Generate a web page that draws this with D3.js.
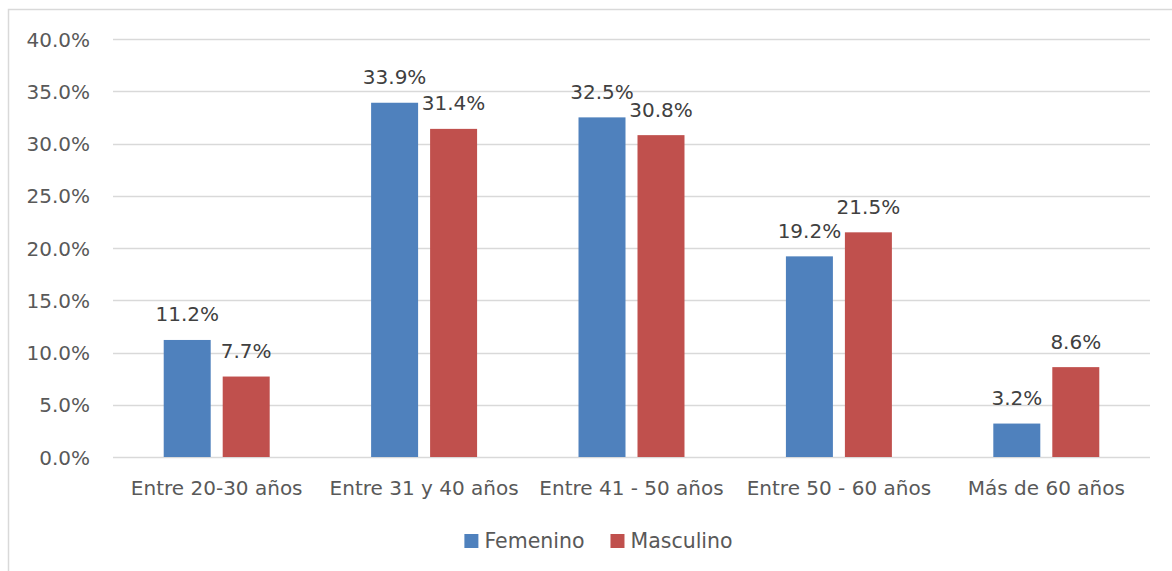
<!DOCTYPE html>
<html>
<head>
<meta charset="utf-8">
<script src="https://cdn.jsdelivr.net/npm/d3@7/dist/d3.min.js"></script>
<style>
  html, body { margin: 0; padding: 0; background: #ffffff; }
  svg { display: block; }
  text { font-family: "DejaVu Sans", sans-serif; }
</style>
</head>
<body>
<svg id="chart" width="1172" height="571"></svg>
<script>
// Age groups and the share of each sex in them
const categories = ["Entre 20-30 años", "Entre 31 y 40 años", "Entre 41 - 50 años", "Entre 50 - 60 años", "Más de 60 años"];
const seriesNames = ["Femenino", "Masculino"];
const femenino = [0.112, 0.339, 0.325, 0.192, 0.032];
const masculino = [0.077, 0.314, 0.308, 0.215, 0.086];
const yTicks = [0, 0.05, 0.10, 0.15, 0.20, 0.25, 0.30, 0.35, 0.40];
const colors = ["#4F81BD", "#C0504D"];

const seriesValues = [femenino, masculino];
const W = 1172, H = 571;
const plot = { left: 113, right: 1150, top: 39, bottom: 457 };

const svg = d3.select("#chart");

svg.append("rect").attr("width", W).attr("height", H).attr("fill", "#ffffff");

// Chart frame
svg.append("rect")
  .attr("x", 8.5).attr("y", 9.5)
  .attr("width", W + 20).attr("height", H + 20)
  .attr("fill", "none").attr("stroke", "#d9d9d9").attr("stroke-width", 1.5);

const y = d3.scaleLinear().domain([0, 0.40]).range([plot.bottom, plot.top]);
const x0 = d3.scaleBand().domain(categories).range([plot.left, plot.right]).paddingInner(0.489).paddingOuter(0.2445);
const x1 = d3.scaleBand().domain(seriesNames).range([0, x0.bandwidth()]).paddingInner(0.2034);

// Gridlines
svg.append("g")
  .selectAll("line").data(yTicks).join("line")
  .attr("x1", plot.left).attr("x2", plot.right)
  .attr("y1", d => Math.round(y(d)) + 0.5).attr("y2", d => Math.round(y(d)) + 0.5)
  .attr("stroke", "#d9d9d9").attr("stroke-width", 1.6);

// Y axis labels
const yAxis = d3.axisLeft(y).tickValues(yTicks).tickFormat(d3.format(".1%")).tickSize(0).tickPadding(0);
const gy = svg.append("g").attr("transform", `translate(90,0)`).call(yAxis);
gy.select(".domain").remove();
gy.selectAll("text")
  .attr("font-family", "DejaVu Sans, sans-serif")
  .attr("font-size", 20).attr("fill", "#595959")
  .attr("dy", "0.35em");

// X axis labels
const xAxis = d3.axisBottom(x0).tickSize(0).tickPadding(0);
const gx = svg.append("g").attr("transform", `translate(0,${plot.bottom})`).call(xAxis);
gx.select(".domain").remove();
gx.selectAll("text")
  .attr("font-family", "DejaVu Sans, sans-serif")
  .attr("font-size", 20).attr("fill", "#595959")
  .attr("y", 38).attr("dy", 0);

// Bars
const rows = categories.map((c, i) => ({ cat: c, vals: seriesNames.map((s, j) => ({ s, v: seriesValues[j][i], j })) }));
const groups = svg.append("g").selectAll("g").data(rows).join("g")
  .attr("transform", d => `translate(${x0(d.cat)},0)`);

groups.selectAll("rect").data(d => d.vals).join("rect")
  .attr("x", d => x1(d.s))
  .attr("y", d => y(d.v))
  .attr("width", x1.bandwidth())
  .attr("height", d => y(0) - y(d.v))
  .attr("fill", d => colors[d.j]);

// Value labels
groups.selectAll("text").data(d => d.vals).join("text")
  .attr("x", d => x1(d.s) + x1.bandwidth() / 2)
  .attr("y", d => y(d.v) - 18.5)
  .attr("text-anchor", "middle")
  .attr("font-size", 20).attr("fill", "#404040")
  .text(d => d3.format(".1%")(d.v));

// Legend
const legend = svg.append("g");
const items = legend.selectAll("g").data(seriesNames).join("g");
items.append("rect").attr("width", 14).attr("height", 14).attr("y", 534)
  .attr("fill", (d, i) => colors[i]);
items.append("text").attr("x", 20).attr("y", 548)
  .attr("font-size", 20.5).attr("fill", "#595959").text(d => d);
let widths = [];
items.each(function () { widths.push(this.getBBox().width); });
const gap = 26;
const total = d3.sum(widths) + gap * (widths.length - 1);
let cx = 598.5 - total / 2;
items.attr("transform", (d, i) => { const t = `translate(${cx},0)`; cx += widths[i] + gap; return t; });
</script>
</body>
</html>
